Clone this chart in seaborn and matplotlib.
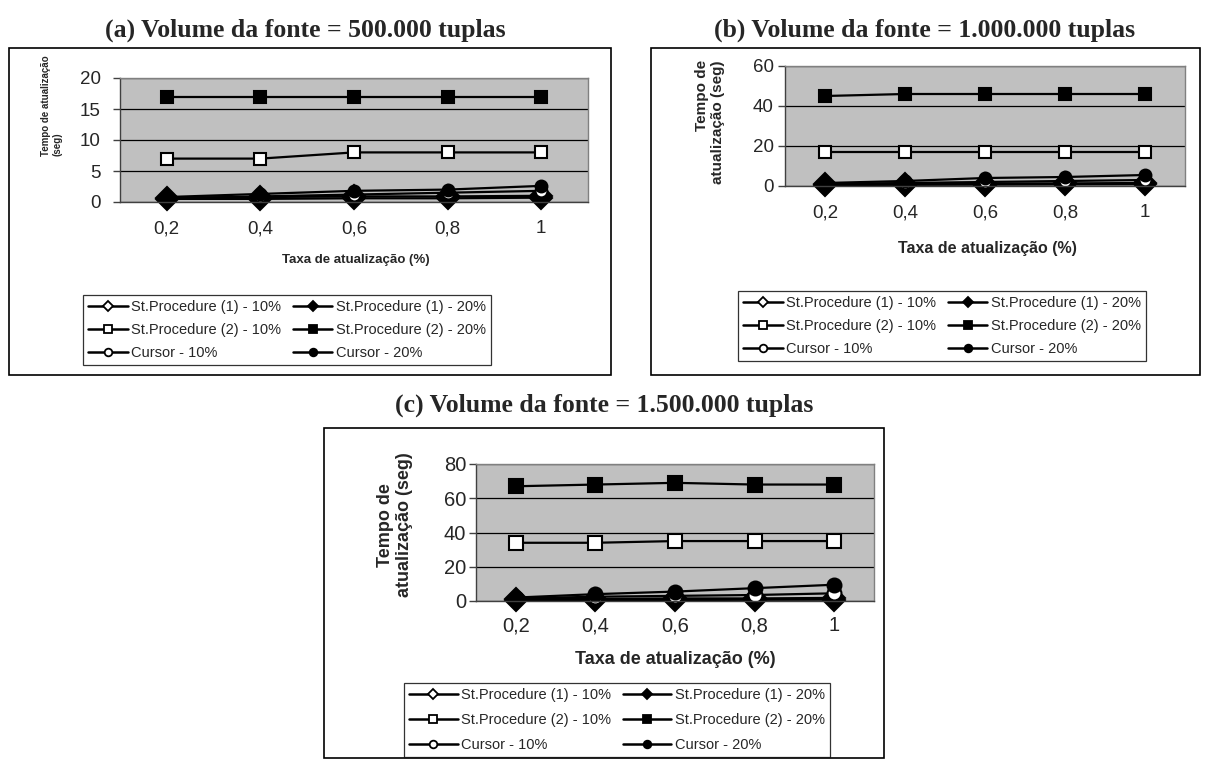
import numpy as np
import pandas as pd
import matplotlib
matplotlib.use("Agg")
import matplotlib.pyplot as plt
import seaborn as sns
from matplotlib.lines import Line2D
from matplotlib.patches import Rectangle

# ============================================
# DATA (tempo de atualização em segundos)
# ============================================

taxas = ["0,2", "0,4", "0,6", "0,8", "1"]
series_names = [
    "St.Procedure (1) - 10%", "St.Procedure (1) - 20%",
    "St.Procedure (2) - 10%", "St.Procedure (2) - 20%",
    "Cursor - 10%", "Cursor - 20%",
]

# (a) 500.000 tuplas
a_sp1_10 = [0.5, 0.5, 0.6, 0.6, 0.7]
a_sp1_20 = [0.7, 0.8, 0.9, 0.9, 1.0]
a_sp2_10 = [7, 7, 8, 8, 8]
a_sp2_20 = [17, 17, 17, 17, 17]
a_cur_10 = [0.6, 0.9, 1.2, 1.5, 1.8]
a_cur_20 = [0.8, 1.3, 1.8, 2.0, 2.6]

# (b) 1.000.000 tuplas
b_sp1_10 = [0.5, 0.6, 0.7, 0.8, 0.9]
b_sp1_20 = [1.0, 1.0, 1.2, 1.3, 1.5]
b_sp2_10 = [17, 17, 17, 17, 17]
b_sp2_20 = [45, 46, 46, 46, 46]
b_cur_10 = [1.0, 1.5, 2.0, 2.5, 3.0]
b_cur_20 = [1.5, 2.5, 4.0, 4.5, 5.5]

# (c) 1.500.000 tuplas
c_sp1_10 = [0.5, 0.5, 0.6, 0.7, 0.8]
c_sp1_20 = [1.0, 1.2, 1.5, 1.5, 1.8]
c_sp2_10 = [34, 34, 35, 35, 35]
c_sp2_20 = [67, 68, 69, 68, 68]
c_cur_10 = [1.5, 2.5, 3.0, 3.5, 4.5]
c_cur_20 = [2.0, 4.0, 5.5, 7.5, 9.5]

W, H = 1208, 760
sns.set_style("white")
plt.rcParams["font.family"] = ["Liberation Sans", "DejaVu Sans"]

MARKERS = ["D", "D", "s", "s", "o", "o"]
FACES = ["white", "black", "white", "black", "white", "black"]


def fx(px):
    return px / W


def fy(py):
    return 1 - py / H


def box(fig, x0, y0, x1, y1):
    fig.add_artist(Rectangle((fx(x0), fy(y1)), fx(x1 - x0), (y1 - y0) / H,
                             transform=fig.transFigure, fill=False,
                             edgecolor="black", linewidth=1.2))


def draw_panel(fig, rect, series, ymax, ystep, sizes, tick_fs, xpad, ypad):
    x0, y0, x1, y1 = rect
    ax = fig.add_axes([fx(x0), fy(y1), fx(x1 - x0), (y1 - y0) / H])
    ax.set_facecolor("#c0c0c0")
    ms_d, ms_s, ms_o = sizes
    msizes = [ms_d, ms_d, ms_s, ms_s, ms_o, ms_o]
    for vals, m, fc, ms in zip(series, MARKERS, FACES, msizes):
        sns.lineplot(x=taxas, y=vals, ax=ax, sort=False, color="black",
                     linewidth=1.6, marker=m, markersize=ms,
                     markerfacecolor=fc, markeredgecolor="black",
                     markeredgewidth=1.5, legend=False, clip_on=False)
    ax.set_xlim(-0.5, 4.5)
    ax.set_ylim(0, ymax)
    ax.set_yticks(np.arange(0, ymax + 1, ystep))
    ax.grid(axis="y", color="black", linewidth=0.9)
    ax.set_axisbelow(True)
    ax.set_xlabel("")
    ax.set_ylabel("")
    ax.set_xticks(range(len(taxas)))
    ax.set_xticklabels(taxas)
    ax.set_xticks(np.arange(-0.5, 5, 1), minor=True)
    ax.tick_params(axis="x", which="major", length=0, pad=xpad, labelsize=tick_fs)
    ax.tick_params(axis="x", which="minor", length=5, width=1, color="#404040",
                   direction="out")
    ax.tick_params(axis="y", length=5, width=1, color="#404040", direction="out",
                   pad=ypad, labelsize=tick_fs, left=True)
    for side in ["top", "right"]:
        ax.spines[side].set_color("#808080")
        ax.spines[side].set_linewidth(1)
    for side in ["left", "bottom"]:
        ax.spines[side].set_color("#404040")
        ax.spines[side].set_linewidth(1)
    return ax


def add_legend(fig, cx, cy, fs, hlen, lspace):
    handles = []
    for m, fc in zip(MARKERS, FACES):
        handles.append(Line2D([], [], color="black", linewidth=1.8, marker=m,
                              markersize=5.5, markerfacecolor=fc,
                              markeredgecolor="black", markeredgewidth=1.3))
    # ncol=2 fills column first, so reorder to read row by row
    order = [0, 2, 4, 1, 3, 5]
    leg = fig.legend([handles[i] for i in order], [series_names[i] for i in order],
                     ncol=2, loc="center", bbox_to_anchor=(fx(cx), fy(cy)),
                     bbox_transform=fig.transFigure, fontsize=fs,
                     frameon=True, fancybox=False, edgecolor="black",
                     handlelength=hlen, handletextpad=0.25, columnspacing=0.8,
                     labelspacing=lspace, borderpad=0.35, borderaxespad=0)
    leg.get_frame().set_linewidth(0.9)
    return leg


fig = plt.figure(figsize=(W / 100, H / 100), dpi=100)

title_font = dict(family=["Liberation Serif", "DejaVu Serif"], fontweight="bold",
                  fontsize=18.5, ha="center", va="baseline")

# ---------- (a) ----------
box(fig, 9, 48, 611, 375)
fig.text(fx(305), fy(37), "(a) Volume da fonte = 500.000 tuplas", **title_font)
draw_panel(fig, (120, 78, 588, 202),
           [a_sp1_10, a_sp1_20, a_sp2_10, a_sp2_20, a_cur_10, a_cur_20],
           20, 5, (11, 8.5, 8.5), 13.5, 13, 9)
fig.text(fx(52), fy(156), "Tempo de atualização\n(seg)", rotation=90,
         ha="center", va="bottom", multialignment="left",
         fontsize=7, fontweight="bold")
fig.text(fx(356), fy(260), "Taxa de atualização (%)", ha="center", va="center",
         fontsize=9.5, fontweight="bold")
add_legend(fig, 287, 330, 10.5, 2.7, 0.6)

# ---------- (b) ----------
box(fig, 651, 48, 1200, 375)
fig.text(fx(925), fy(37), "(b) Volume da fonte = 1.000.000 tuplas", **title_font)
draw_panel(fig, (785, 66, 1185, 186),
           [b_sp1_10, b_sp1_20, b_sp2_10, b_sp2_20, b_cur_10, b_cur_20],
           60, 20, (11, 8.5, 8.5), 13.5, 13, 3)
fig.text(fx(710), fy(60), "Tempo de\natualização (seg)", rotation=90,
         ha="center", va="top", multialignment="right",
         fontsize=11, fontweight="bold")
fig.text(fx(987), fy(248), "Taxa de atualização (%)", ha="center", va="center",
         fontsize=11.5, fontweight="bold")
add_legend(fig, 942, 326, 10.5, 2.7, 0.6)

# ---------- (c) ----------
box(fig, 324, 428, 884, 758)
fig.text(fx(604), fy(412), "(c) Volume da fonte = 1.500.000 tuplas", **title_font)
draw_panel(fig, (476, 464, 874, 601),
           [c_sp1_10, c_sp1_20, c_sp2_10, c_sp2_20, c_cur_10, c_cur_20],
           80, 20, (11, 10, 10), 14.5, 11, 2)
fig.text(fx(395), fy(525), "Tempo de\natualização (seg)", rotation=90,
         ha="center", va="center", multialignment="center",
         fontsize=13, fontweight="bold")
fig.text(fx(675), fy(660), "Taxa de atualização (%)", ha="center", va="center",
         fontsize=13, fontweight="bold")
add_legend(fig, 617, 720, 10.5, 3.3, 0.75)

fig.savefig("out.png", dpi=100)
